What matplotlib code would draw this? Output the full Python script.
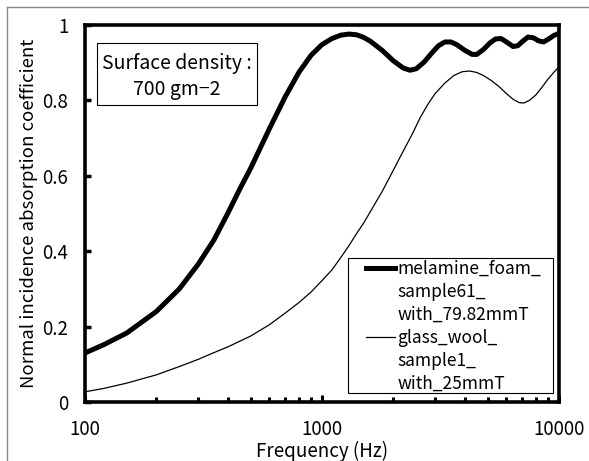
import matplotlib
matplotlib.use("Agg")
import matplotlib.pyplot as plt
from matplotlib.lines import Line2D
from matplotlib.patches import Rectangle
from matplotlib.ticker import FixedLocator, FixedFormatter, LogLocator, NullFormatter

plt.rcParams['font.family'] = ['Noto Sans CJK JP', 'DejaVu Sans']

# ---- data ----
melamine_freq = [100, 120, 150, 200, 250, 300, 350, 400, 450, 500, 600, 700, 800, 900,
                 1000, 1100, 1200, 1300, 1400, 1500, 1600, 1800, 2000, 2200, 2350, 2500,
                 2700, 2900, 3100, 3300, 3500, 3700, 4000, 4300, 4500, 4800, 5100, 5400,
                 5700, 6000, 6400, 6700, 7000, 7400, 7800, 8200, 8600, 9000, 9500, 10000]
melamine_alpha = [0.130, 0.152, 0.183, 0.240, 0.300, 0.365, 0.430, 0.500, 0.565, 0.620,
                  0.725, 0.810, 0.875, 0.920, 0.948, 0.964, 0.973, 0.976, 0.974, 0.967,
                  0.957, 0.932, 0.905, 0.886, 0.880, 0.884, 0.902, 0.925, 0.945, 0.955,
                  0.955, 0.948, 0.933, 0.922, 0.922, 0.935, 0.952, 0.963, 0.964, 0.955,
                  0.943, 0.945, 0.956, 0.968, 0.966, 0.958, 0.955, 0.962, 0.972, 0.978]

glass_freq = [100, 120, 150, 200, 250, 300, 350, 400, 500, 600, 700, 800, 900, 1000,
              1100, 1200, 1300, 1400, 1500, 1600, 1800, 2000, 2200, 2400, 2600, 2800,
              3000, 3300, 3600, 3900, 4200, 4500, 4800, 5200, 5600, 6000, 6400, 6800,
              7100, 7500, 8000, 8500, 9000, 9500, 10000]
glass_alpha = [0.027, 0.036, 0.050, 0.072, 0.094, 0.113, 0.131, 0.146, 0.175, 0.205,
               0.236, 0.264, 0.292, 0.322, 0.350, 0.383, 0.415, 0.447, 0.475, 0.505,
               0.560, 0.615, 0.665, 0.710, 0.755, 0.790, 0.818, 0.846, 0.866, 0.876,
               0.878, 0.874, 0.866, 0.852, 0.836, 0.818, 0.803, 0.794, 0.793, 0.800,
               0.815, 0.836, 0.857, 0.874, 0.889]

series_labels = [["melamine_foam_", "sample61_", "with_79.82mmT"],
                 ["glass_wool_", "sample1_", "with_25mmT"]]

y_ticks = [0, 0.2, 0.4, 0.6, 0.8, 1.0]
y_tick_labels = ["0", "0.2", "0.4", "0.6", "0.8", "1"]
x_ticks = [100, 1000, 10000]
x_tick_labels = ["100", "1000", "10000"]

annotation_lines = ["Surface density :", "700 gm\u22122"]

# ---- figure ----
W, H = 589, 461
fig = plt.figure(figsize=(W / 100, H / 100), dpi=100)
ax_l, ax_r, ax_t, ax_b = 85, 559, 25, 402
ax = fig.add_axes([ax_l / W, 1 - ax_b / H, (ax_r - ax_l) / W, (ax_b - ax_t) / H])

ax.plot(melamine_freq, melamine_alpha, color='black', lw=3.6, solid_capstyle='round',
        solid_joinstyle='round')
ax.plot(glass_freq, glass_alpha, color='black', lw=0.9, solid_joinstyle='round')

ax.set_xscale('log')
ax.set_xlim(100, 10000)
ax.set_ylim(0, 1)

ax.xaxis.set_major_locator(FixedLocator(x_ticks))
ax.xaxis.set_major_formatter(FixedFormatter(x_tick_labels))
ax.xaxis.set_minor_locator(LogLocator(base=10, subs=range(2, 10)))
ax.xaxis.set_minor_formatter(NullFormatter())
ax.yaxis.set_major_locator(FixedLocator(y_ticks))
ax.yaxis.set_major_formatter(FixedFormatter(y_tick_labels))

ax.tick_params(axis='x', which='major', direction='in', length=5, width=2.2,
               labelsize=13.5, pad=12)
ax.tick_params(axis='x', which='minor', direction='in', length=3.5, width=2.2)
ax.tick_params(axis='y', which='major', direction='in', length=4, width=2.5,
               labelsize=13.5, pad=12)
for s in ax.spines.values():
    s.set_linewidth(2.6)

ax.set_xlabel("Frequency (Hz)", fontsize=13.5, labelpad=1)
ax.set_ylabel("Normal incidence absorption coefficient", fontsize=13.4, labelpad=3)

def axfx(px):
    return (px - ax_l) / (ax_r - ax_l)
def axfy(py):
    return (ax_b - py) / (ax_b - ax_t)

# annotation box
bx0, bx1, by0, by1 = 97, 257, 43, 105
ax.add_patch(Rectangle((axfx(bx0), axfy(by1)), axfx(bx1) - axfx(bx0), axfy(by0) - axfy(by1),
                       transform=ax.transAxes, fill=False, lw=0.8, ec='black'))
ax.text(axfx(177), axfy(63), annotation_lines[0], transform=ax.transAxes,
        ha='center', va='center', fontsize=14)
ax.text(axfx(177), axfy(90), annotation_lines[1], transform=ax.transAxes,
        ha='center', va='center', fontsize=14)

# legend (frame drawn separately)
lx0, lx1, ly0, ly1 = 348, 553, 258, 393
ax.add_patch(Rectangle((axfx(lx0), axfy(ly1)), axfx(lx1) - axfx(lx0), axfy(ly0) - axfy(ly1),
                       transform=ax.transAxes, fill=True, fc='white', lw=0.8, ec='black',
                       zorder=4))
blank = Line2D([], [], lw=0)
handles = [Line2D([], [], color='black', lw=3.6), blank, blank,
           Line2D([], [], color='black', lw=0.9), blank, blank]
labels = series_labels[0] + series_labels[1]
leg = ax.legend(handles, labels, loc='upper left', bbox_to_anchor=(axfx(366), axfy(260)),
                borderaxespad=0, frameon=False, fontsize=12.5, handlelength=1.65,
                handletextpad=0.15, labelspacing=0.29, borderpad=0)
leg.set_zorder(5)

# outer frame (top and left border)
fig.add_artist(Line2D([7 / W, 1], [1 - 7 / H, 1 - 7 / H], color='#8a8a8a', lw=1,
                      transform=fig.transFigure))
fig.add_artist(Line2D([7 / W, 7 / W], [0, 1 - 7 / H], color='#8a8a8a', lw=1,
                      transform=fig.transFigure))

fig.savefig("out.png", dpi=100)
